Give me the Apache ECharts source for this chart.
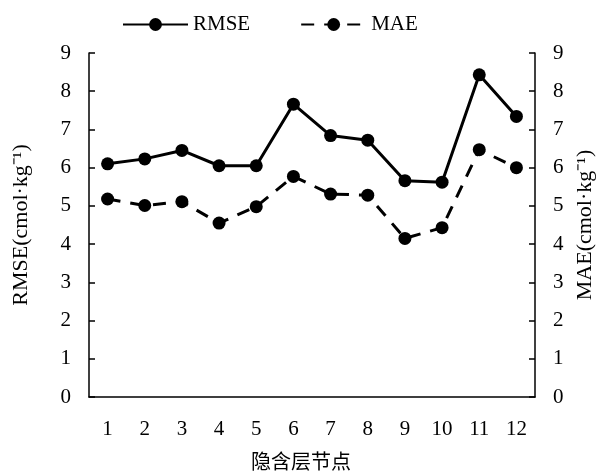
<!DOCTYPE html>
<html>
<head>
<meta charset="utf-8">
<script src="https://cdn.jsdelivr.net/npm/echarts@6/dist/echarts.min.js"></script>
<style>
  html, body { margin: 0; padding: 0; background: #fff; }
  #main { width: 604px; height: 473px; }
</style>
</head>
<body>
<div id="main"></div>
<script>
// hidden-layer node counts
var nodes = ["1", "2", "3", "4", "5", "6", "7", "8", "9", "10", "11", "12"];
var rmse = [6.10, 6.23, 6.45, 6.05, 6.05, 7.66, 6.84, 6.72, 5.66, 5.62, 8.43, 7.34];
var mae = [5.18, 5.01, 5.11, 4.55, 4.98, 5.77, 5.31, 5.28, 4.15, 4.43, 6.47, 6.00];

var serif = "'Liberation Serif', 'Times New Roman', 'Noto Sans CJK SC', serif";

var chartDom = document.getElementById("main");
var myChart = echarts.init(chartDom);
var option;

function yAxis(name, pos, gap) {
  return {
    type: "value",
    position: pos,
    min: 0,
    max: 9,
    interval: 1,
    name: name,
    nameLocation: "middle",
    nameGap: gap,
    nameTextStyle: { color: "#000", fontFamily: serif, fontSize: 22 },
    axisLine: { show: true, lineStyle: { color: "#000", width: 1.5 } },
    axisTick: { show: true, inside: true, length: 6, lineStyle: { color: "#000", width: 1.5 } },
    axisLabel: { color: "#000", fontFamily: serif, fontSize: 21, margin: 18 },
    splitLine: { show: false },
  };
}

option = {
  animation: false,
  backgroundColor: "#fff",
  textStyle: { fontFamily: serif },
  legend: {
    top: 9,
    left: 117,
    itemWidth: 65,
    itemHeight: 16,
    itemGap: 50,
    textStyle: { color: "#000", fontFamily: serif, fontSize: 21 },
    data: ["RMSE", "MAE"],
  },
  grid: {
    left: 89, right: 69, top: 53, bottom: 76,
    containLabel: false,
    outerBoundsMode: "none",
  },
  xAxis: {
    type: "category",
    data: nodes,
    boundaryGap: true,
    name: "隐含层节点",
    nameLocation: "middle",
    nameGap: 57,
    nameTextStyle: { color: "#000", fontFamily: serif, fontSize: 20, padding: [0, 22, 0, 0] },
    axisLine: { lineStyle: { color: "#000", width: 1.5 } },
    axisTick: { inside: true, interval: 1, length: 6, lineStyle: { color: "#000", width: 1.5 } },
    axisLabel: { color: "#000", fontFamily: serif, fontSize: 21, margin: 22, interval: 0 },
  },
  yAxis: [
    yAxis("RMSE(cmol·kg⁻¹)", "left", 57),
    yAxis("MAE(cmol·kg⁻¹)", "right", 37),
  ],
  series: [
    {
      name: "RMSE",
      type: "line",
      yAxisIndex: 0,
      data: rmse,
      symbol: "circle",
      symbolSize: 13,
      itemStyle: { color: "#000" },
      lineStyle: { color: "#000", width: 3, type: "solid" },
    },
    {
      name: "MAE",
      type: "line",
      yAxisIndex: 1,
      data: mae,
      symbol: "circle",
      symbolSize: 13,
      itemStyle: { color: "#000" },
      lineStyle: { color: "#000", width: 3, type: [13, 10] },
    },
  ],
};

option && myChart.setOption(option);
</script>
</body>
</html>
